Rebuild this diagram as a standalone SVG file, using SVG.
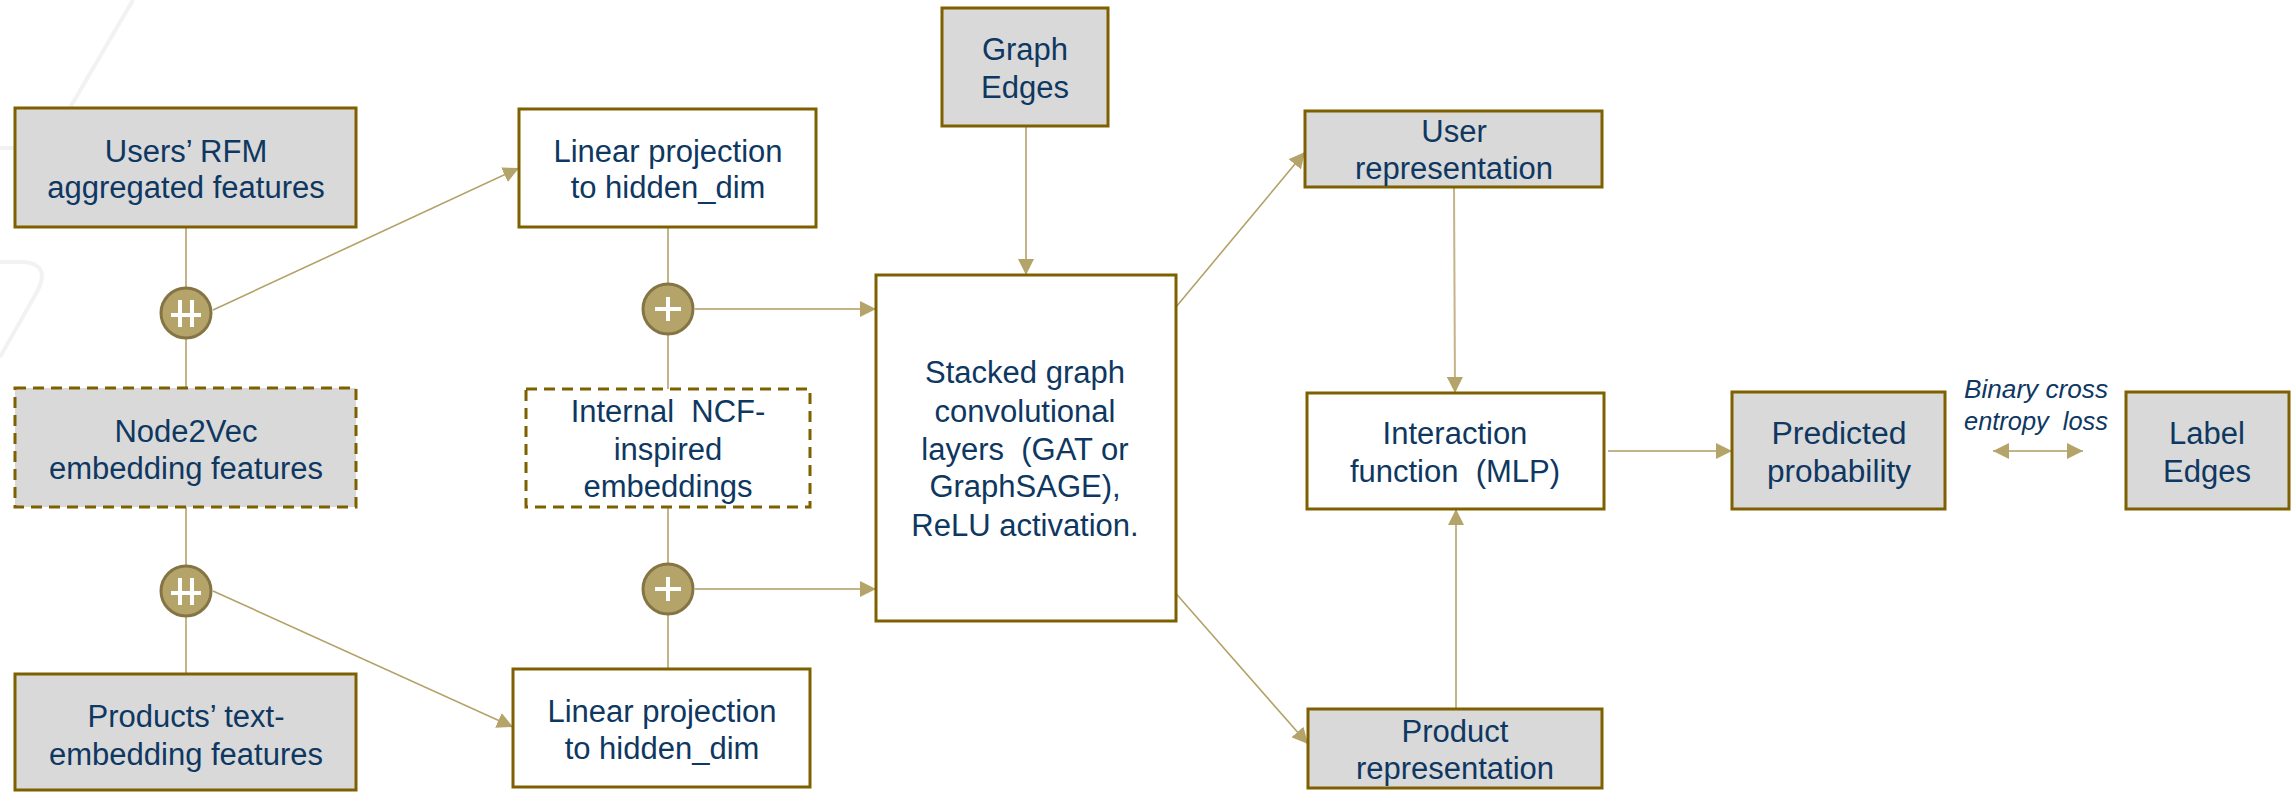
<svg xmlns="http://www.w3.org/2000/svg" width="2293" height="792" viewBox="0 0 2293 792">
<style>
.box{stroke:#7F6000;stroke-width:3}
.grey{fill:#D9D9D9}
.white{fill:#FFFFFF}
.dash{stroke-dasharray:11 7}
.t{font-family:"Liberation Sans",Arial,sans-serif;font-size:31px;fill:#0E3761;text-anchor:middle}
.it{font-family:"Liberation Sans",Arial,sans-serif;font-size:26px;font-style:italic;fill:#0E3761;text-anchor:middle}
.c{fill:none;stroke:#C4B487;stroke-width:2}
.d{fill:none;stroke:#B3A267;stroke-width:1.6}
.op{fill:#B4A46A;stroke:#857545;stroke-width:3}
.sym{stroke:#FFFFFF;stroke-width:4;fill:none}
.bg{fill:none;stroke:#F2F2F2;stroke-width:4}
</style>
<defs>
<marker id="ah" markerUnits="userSpaceOnUse" markerWidth="17" markerHeight="16" refX="16" refY="8" orient="auto">
<path d="M0,0 L16,8 L0,16 z" fill="#B4A46A"/>
</marker>
<marker id="as" markerUnits="userSpaceOnUse" markerWidth="17" markerHeight="16" refX="0" refY="8" orient="auto">
<path d="M16,0 L0,8 L16,16 z" fill="#B4A46A"/>
</marker>
</defs>
<rect width="2293" height="792" fill="#FFFFFF"/>
<g id="background">
<path class="bg" d="M133,0 L64,118 Q55,148 30,148 L0,148"/>
<path class="bg" d="M0,262 L25,262 Q50,265 38,290 L0,357"/>
</g>
<g id="connectors">
<line class="c" x1="186" y1="227" x2="186" y2="287"/>
<line class="c" x1="186" y1="339" x2="186" y2="388"/>
<line class="c" x1="186" y1="507" x2="186" y2="565"/>
<line class="c" x1="186" y1="617" x2="186" y2="674"/>
<line class="d" x1="213" y1="310" x2="519" y2="168" marker-end="url(#ah)"/>
<line class="d" x1="213" y1="591" x2="513" y2="727" marker-end="url(#ah)"/>
<line class="c" x1="668" y1="227" x2="668" y2="283"/>
<line class="c" x1="668" y1="335" x2="668" y2="389"/>
<line class="c" x1="668" y1="507" x2="668" y2="563"/>
<line class="c" x1="668" y1="615" x2="668" y2="669"/>
<line class="c" x1="695" y1="309" x2="876" y2="309" marker-end="url(#ah)"/>
<line class="c" x1="695" y1="589" x2="876" y2="589" marker-end="url(#ah)"/>
<line class="c" x1="1026" y1="126" x2="1026" y2="275" marker-end="url(#ah)"/>
<line class="d" x1="1176" y1="307" x2="1305" y2="152" marker-end="url(#ah)"/>
<line class="d" x1="1172" y1="589" x2="1308" y2="744" marker-end="url(#ah)"/>
<line class="c" x1="1454" y1="187" x2="1455" y2="393" marker-end="url(#ah)"/>
<line class="c" x1="1456" y1="709" x2="1456" y2="509" marker-end="url(#ah)"/>
<line class="c" x1="1608" y1="451" x2="1732" y2="451" marker-end="url(#ah)"/>
<line class="c" x1="1993" y1="451" x2="2083" y2="451" marker-start="url(#as)" marker-end="url(#ah)"/>
</g>
<g id="users-rfm">
<rect class="box grey" x="15" y="108" width="341" height="119"/>
<text class="t" x="186" y="162">Users’ RFM</text>
<text class="t" x="186" y="198">aggregated features</text>
</g>
<g id="concat-1">
<circle class="op" cx="186" cy="313" r="25"/>
<path class="sym" d="M180,300 V327 M192,300 V327 M171,315 H201"/>
</g>
<g id="node2vec">
<rect class="box grey dash" x="15" y="388" width="341" height="119"/>
<text class="t" x="186" y="442">Node2Vec</text>
<text class="t" x="186" y="479">embedding features</text>
</g>
<g id="concat-2">
<circle class="op" cx="186" cy="591" r="25"/>
<path class="sym" d="M180,578 V605 M192,578 V605 M171,593 H201"/>
</g>
<g id="products-text">
<rect class="box grey" x="15" y="674" width="341" height="116"/>
<text class="t" x="186" y="727">Products’ text-</text>
<text class="t" x="186" y="765">embedding features</text>
</g>
<g id="linear-top">
<rect class="box white" x="519" y="109" width="297" height="118"/>
<text class="t" x="668" y="162">Linear projection</text>
<text class="t" x="668" y="198">to hidden_dim</text>
</g>
<g id="add-1">
<circle class="op" cx="668" cy="309" r="25"/>
<path class="sym" d="M668,297 V321 M655,309 H681"/>
</g>
<g id="ncf">
<rect class="box white dash" x="526" y="389" width="284" height="118"/>
<text class="t" x="668" y="422" xml:space="preserve">Internal  NCF-</text>
<text class="t" x="668" y="460">inspired</text>
<text class="t" x="668" y="497">embeddings</text>
</g>
<g id="add-2">
<circle class="op" cx="668" cy="589" r="25"/>
<path class="sym" d="M668,577 V601 M655,589 H681"/>
</g>
<g id="linear-bottom">
<rect class="box white" x="513" y="669" width="297" height="118"/>
<text class="t" x="662" y="722">Linear projection</text>
<text class="t" x="662" y="759">to hidden_dim</text>
</g>
<g id="graph-edges">
<rect class="box grey" x="942" y="8" width="166" height="118"/>
<text class="t" x="1025" y="60">Graph</text>
<text class="t" x="1025" y="98">Edges</text>
</g>
<g id="gcn">
<rect class="box white" x="876" y="275" width="300" height="346"/>
<text class="t" x="1025" y="383">Stacked graph</text>
<text class="t" x="1025" y="422">convolutional</text>
<text class="t" x="1025" y="460" xml:space="preserve">layers  (GAT or</text>
<text class="t" x="1025" y="497">GraphSAGE),</text>
<text class="t" x="1025" y="536">ReLU activation.</text>
</g>
<g id="user-rep">
<rect class="box grey" x="1305" y="111" width="297" height="76"/>
<text class="t" x="1454" y="142">User</text>
<text class="t" x="1454" y="179">representation</text>
</g>
<g id="interaction">
<rect class="box white" x="1307" y="393" width="297" height="116"/>
<text class="t" x="1455" y="444">Interaction</text>
<text class="t" x="1455" y="482" xml:space="preserve">function  (MLP)</text>
</g>
<g id="product-rep">
<rect class="box grey" x="1308" y="709" width="294" height="79"/>
<text class="t" x="1455" y="742">Product</text>
<text class="t" x="1455" y="779">representation</text>
</g>
<g id="predicted">
<rect class="box grey" x="1732" y="392" width="213" height="117"/>
<text class="t" x="1839" y="444" textLength="135" lengthAdjust="spacingAndGlyphs">Predicted</text>
<text class="t" x="1839" y="482" textLength="144" lengthAdjust="spacingAndGlyphs">probability</text>
</g>
<g id="bce-label">
<text class="it" x="2036" y="398" textLength="144" lengthAdjust="spacingAndGlyphs">Binary cross</text>
<text class="it" x="2036" y="430" textLength="144" lengthAdjust="spacingAndGlyphs" xml:space="preserve">entropy  loss</text>
</g>
<g id="label-edges">
<rect class="box grey" x="2126" y="392" width="163" height="117"/>
<text class="t" x="2207" y="444">Label</text>
<text class="t" x="2207" y="482">Edges</text>
</g>
</svg>
